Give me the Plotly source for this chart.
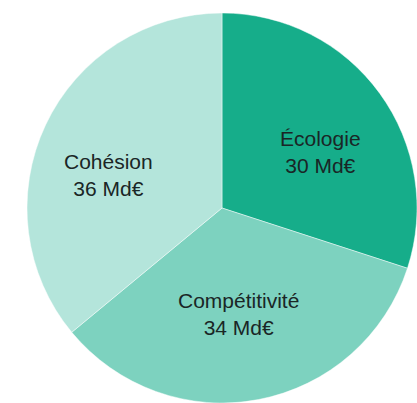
import plotly.graph_objects as go

# Répartition du plan par axe (milliards d'euros)
categories = ["Écologie", "Compétitivité", "Cohésion"]
values = [30, 34, 36]
unit = "Md€"
colors = ["#16ad8a", "#7dd2bf", "#b4e5db"]

W, H = 417, 403

# Centre of each label block, in pixels from the top-left corner
label_px = [(320, 152), (238, 314), (108, 175)]

fig = go.Figure(
    go.Pie(
        labels=categories,
        values=values,
        textinfo="none",
        sort=False,
        direction="clockwise",
        rotation=0,
        marker=dict(colors=colors, line=dict(color="rgba(255,255,255,0.45)", width=1)),
        hoverinfo="skip",
        domain=dict(x=[27 / W, 1.0], y=[0.0, 1 - 13 / H]),
        showlegend=False,
    )
)

for cat, val, (px, py) in zip(categories, values, label_px):
    fig.add_annotation(
        text=f"{cat}<br>{val} {unit}",
        x=px / W,
        y=1 - py / H,
        xref="paper",
        yref="paper",
        xanchor="center",
        yanchor="middle",
        showarrow=False,
        align="center",
        font=dict(family="Liberation Sans, Arial, sans-serif", size=21, color="#1a2626"),
    )

fig.update_layout(
    width=W,
    height=H,
    margin=dict(l=0, r=0, t=0, b=0),
    paper_bgcolor="white",
    plot_bgcolor="white",
)

fig.write_html("out.html", config={"displayModeBar": False})
